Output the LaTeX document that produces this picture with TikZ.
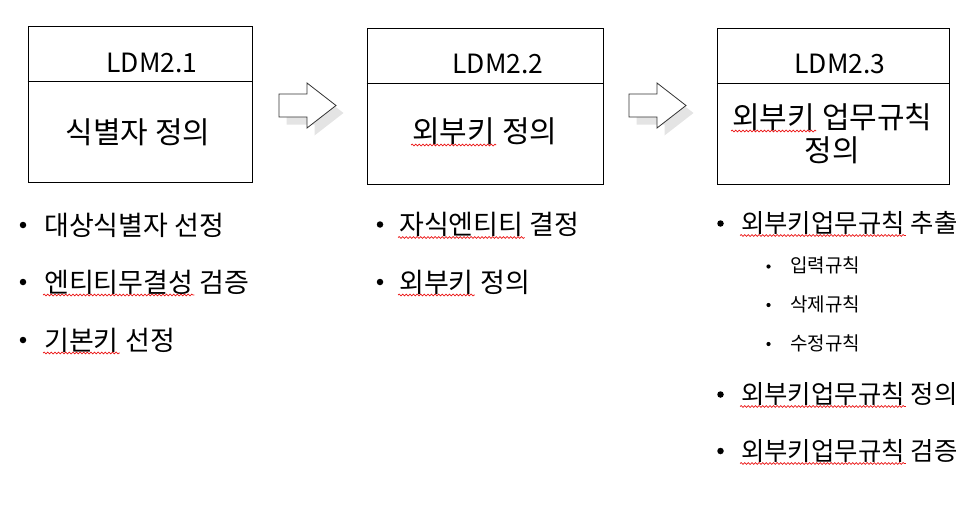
\documentclass[tikz,border=0pt]{standalone}
\usepackage{fontspec}
\setmainfont{Noto Sans CJK KR}
\usetikzlibrary{decorations.pathmorphing}
\definecolor{spellred}{RGB}{235, 20, 20}
\definecolor{shadowgray}{RGB}{228, 228, 228}
\tikzset{
  stepbox/.style={draw, line width=1pt, inner sep=0pt},
  boxtitle/.style={anchor=base, inner sep=0pt, font=\fontsize{26.5}{31}\selectfont},
  boxtext/.style={anchor=base west, inner sep=0pt, font=\fontsize{30}{35}\selectfont},
  item/.style={anchor=base west, inner sep=0pt, font=\fontsize{27}{32}\selectfont},
  itemsm/.style={anchor=base west, inner sep=0pt, font=\fontsize{25.4}{30}\selectfont},
  subitem/.style={anchor=base west, inner sep=0pt, font=\fontsize{19}{23}\selectfont},
  dot/.style={circle, fill=black, inner sep=0pt, minimum size=6.5pt},
  subdot/.style={circle, fill=black, inner sep=0pt, minimum size=4.2pt},
  squiggle/.style={draw=spellred, line width=0.7pt, decorate,
    decoration={snake, segment length=3.6pt, amplitude=0.9pt}},
  blockarrow/.style={draw=black!80, line width=0.8pt, fill=white, line join=miter},
}

\begin{document}
\begin{tikzpicture}[x=1pt, y=-1pt]
  \useasboundingbox (0,0) rectangle (977,527);

  % Step boxes
  \node[stepbox, minimum width=224, minimum height=155] (box1) at (140, 104.5) {};
  \node[stepbox, minimum width=236, minimum height=155] (box2) at (485, 106.5) {};
  \node[stepbox, minimum width=232, minimum height=155] (box3) at (833, 106.5) {};
  \draw[line width=1pt] ([yshift=-55pt]box1.north west) -- ([yshift=-55pt]box1.north east);
  \draw[line width=1pt] ([yshift=-55pt]box2.north west) -- ([yshift=-55pt]box2.north east);
  \draw[line width=1pt] ([yshift=-55pt]box3.north west) -- ([yshift=-55pt]box3.north east);

  % Box titles
  \node[boxtitle] (title1) at (152, 73) {LDM2.1};
  \node[boxtitle] (title2) at (498, 74) {LDM2.2};
  \node[boxtitle] (title3) at (840, 74) {LDM2.3};

  % Box texts
  \node[boxtext, anchor=base] (body1) at (138, 143) {식별자 정의};
  \node[boxtext] (body2a) at (412, 142) {외부키};
  \node[boxtext] (body2b) at (body2a.base east) {\ 정의};
  \node[boxtext] (body3a) at (732, 128) {외부키};
  \node[boxtext] (body3b) at (body3a.base east) {\ 업무규칙};
  \node[boxtext, anchor=base] (body3c) at (832, 161.5) {정의};

  % Block arrows
  \fill[shadowgray, shift={(7.5,7.5)}] (279,94) -- (307,94) -- (307,83) -- (336,105.5) -- (307,128) -- (307,117) -- (279,117) -- cycle;
  \draw[blockarrow] (279,94) -- (307,94) -- (307,83) -- (336,105.5) -- (307,128) -- (307,117) -- (279,117) -- cycle;
  \fill[shadowgray, shift={(357.5,7.5)}] (279,94) -- (307,94) -- (307,83) -- (336,105.5) -- (307,128) -- (307,117) -- (279,117) -- cycle;
  \draw[blockarrow, shift={(350,0)}] (279,94) -- (307,94) -- (307,83) -- (336,105.5) -- (307,128) -- (307,117) -- (279,117) -- cycle;

  % Column 1
  \node[dot] (d11) at (23, 225) {};
  \node[item] (i11) at (44, 235) {대상식별자 선정};
  \node[dot] (d12) at (23, 282) {};
  \node[item] (i12a) at (44, 292) {엔티티무결성};
  \node[item] (i12b) at (i12a.base east) {\ 검증};
  \node[dot] (d13) at (23, 340) {};
  \node[item] (i13a) at (44, 350) {기본키};
  \node[item] (i13b) at (i13a.base east) {\ 선정};

  % Column 2
  \node[dot] (d21) at (380, 224.5) {};
  \node[item] (i21a) at (399, 234.5) {자식엔티티};
  \node[item] (i21b) at (i21a.base east) {\ 결정};
  \node[dot] (d22) at (380, 282) {};
  \node[item] (i22a) at (399, 292) {외부키};
  \node[item] (i22b) at (i22a.base east) {\ 정의};

  % Column 3
  \node[dot] (d31) at (720.5, 223.5) {};
  \node[itemsm] (i31a) at (741, 232.5) {외부키업무규칙};
  \node[itemsm] (i31b) at (i31a.base east) {\ 추출};
  \node[subdot] (s1) at (768.5, 266.5) {};
  \node[subitem] (r1) at (790, 272.5) {입력규칙};
  \node[subdot] (s2) at (768.5, 305) {};
  \node[subitem] (r2) at (790, 311.5) {삭제규칙};
  \node[subdot] (s3) at (768.5, 344) {};
  \node[subitem] (r3) at (790, 350.5) {수정규칙};
  \node[dot] (d34) at (720.5, 394.5) {};
  \node[itemsm] (i34a) at (741, 403.5) {외부키업무규칙};
  \node[itemsm] (i34b) at (i34a.base east) {\ 정의};
  \node[dot] (d35) at (720.5, 451) {};
  \node[itemsm] (i35a) at (741, 460.5) {외부키업무규칙};
  \node[itemsm] (i35b) at (i35a.base east) {\ 검증};

  % Spelling marks
  \draw[squiggle] ([xshift=-1pt,yshift=-3pt]body2a.base west) -- ([xshift=1pt,yshift=-3pt]body2a.base east);
  \draw[squiggle] ([xshift=-1pt,yshift=-3pt]body3a.base west) -- ([xshift=1pt,yshift=-3pt]body3a.base east);
  \draw[squiggle] ([xshift=-1pt,yshift=-3pt]i12a.base west) -- ([xshift=1pt,yshift=-3pt]i12a.base east);
  \draw[squiggle] ([xshift=-1pt,yshift=-3pt]i13a.base west) -- ([xshift=1pt,yshift=-3pt]i13a.base east);
  \draw[squiggle] ([xshift=-1pt,yshift=-3pt]i21a.base west) -- ([xshift=1pt,yshift=-3pt]i21a.base east);
  \draw[squiggle] ([xshift=-1pt,yshift=-3pt]i22a.base west) -- ([xshift=1pt,yshift=-3pt]i22a.base east);
  \draw[squiggle] ([xshift=-1pt,yshift=-3pt]i31a.base west) -- ([xshift=1pt,yshift=-3pt]i31a.base east);
  \draw[squiggle] ([xshift=-1pt,yshift=-3pt]i34a.base west) -- ([xshift=1pt,yshift=-3pt]i34a.base east);
  \draw[squiggle] ([xshift=-1pt,yshift=-3pt]i35a.base west) -- ([xshift=1pt,yshift=-3pt]i35a.base east);
\end{tikzpicture}
\end{document}
